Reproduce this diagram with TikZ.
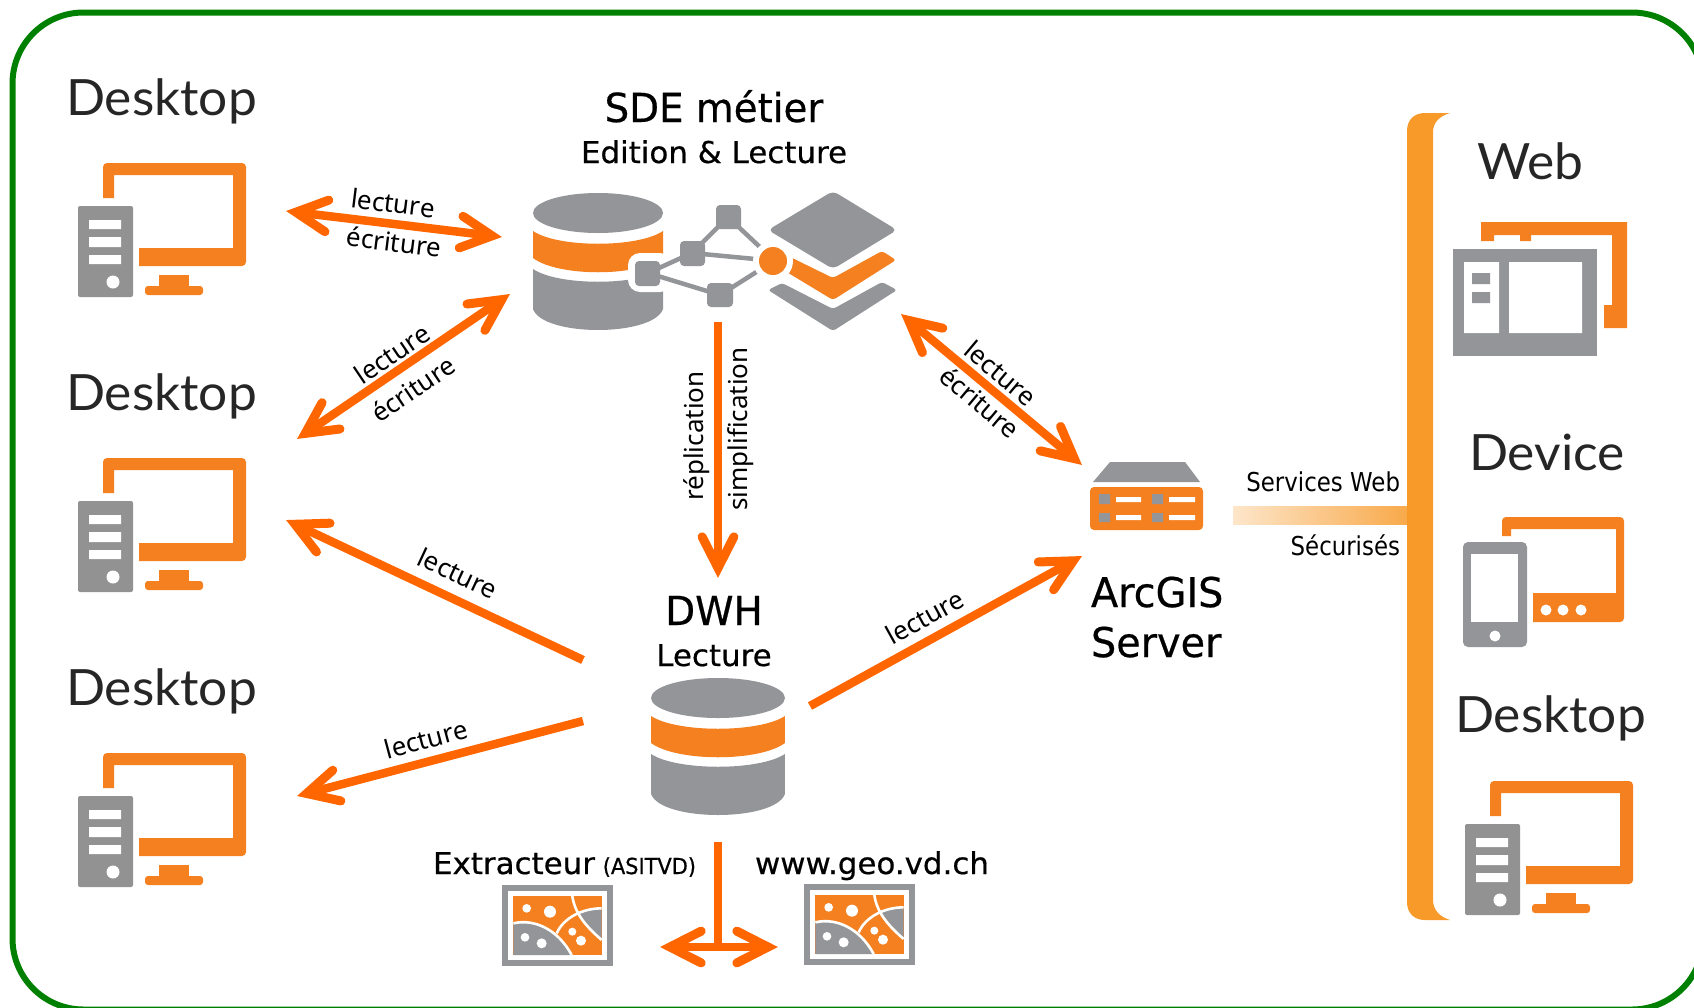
\documentclass[tikz,border=0pt]{standalone}
\usepackage{fontspec}
\usetikzlibrary{calc}
\setmainfont{DejaVu Sans}
\newfontfamily\tahT[FakeStretch=0.97,FakeBold=0.5]{DejaVu Sans}
\newfontfamily\tahS[FakeStretch=1.03,FakeBold=0.5]{DejaVu Sans}
\newfontfamily\tahL[FakeStretch=0.88]{DejaVu Sans}
\newfontfamily\tahN[FakeStretch=0.95,FakeBold=0.7]{DejaVu Sans}
\newfontfamily\nsans{Noto Sans}
\newfontfamily\lat[FakeStretch=1.03]{Lato}
\definecolor{ior}{HTML}{F58020}
\definecolor{igr}{HTML}{939598}
\definecolor{twr}{HTML}{929292}
\definecolor{arr}{HTML}{FF6600}
\definecolor{brk}{HTML}{F79A2A}
\definecolor{frameg}{HTML}{008000}
\newcommand{\fsz}[1]{\fontsize{#1}{#1}\selectfont}
\tikzset{
  txt/.style={inner sep=0pt,outer sep=0pt,text=black},
  ttl/.style={txt,anchor=base,font=\tahT\fsz{40}},
  sub/.style={txt,anchor=base,font=\tahS\fsz{30}},
  cat/.style={txt,anchor=base west,text=black!85,font=\lat\fsz{50}},
  lbl/.style={txt,anchor=center,font=\nsans\fsz{26}},
  svc/.style={txt,anchor=base east,font=\tahL\fsz{26}},
  shaft/.style={draw=arr,line width=8.5pt},
  barb/.style={draw=arr,line width=9pt,line cap=round,line join=miter},
}
% single head at #2, coming from #1
\newcommand{\headat}[2]{%
  \coordinate (ap) at ($(#2)!10pt!(#1)$);
  \draw[barb] ($(ap)!35pt!27:(#1)$) -- (ap) -- ($(ap)!35pt!-27:(#1)$);}
\newcommand{\onehead}[2]{\draw[shaft,shorten >=10pt] (#1) -- (#2); \headat{#1}{#2}}
\newcommand{\twohead}[2]{\draw[shaft,shorten >=10pt,shorten <=10pt] (#1) -- (#2); \headat{#1}{#2}\headat{#2}{#1}}
% desktop icon, coordinates of the top-left one
\newcommand{\desktopicon}{%
  \fill[ior] (103,198) [rounded corners=4] -- (103,163) -- (246,163) -- (246,266) [sharp corners] -- (139,266) -- (139,248) -- (233,248) -- (233,175) -- (114,175) -- (114,198) -- cycle;
  \fill[ior] (159,275) rectangle (189,287);
  \fill[ior,rounded corners=3] (145,286) rectangle (203,295);
  \fill[twr,rounded corners=2] (78,206) rectangle (133,297);
  \fill[white] (89,220) rectangle (121,229) (89,237) rectangle (121,247) (89,255) rectangle (121,264);
  \fill[white] (113,282) circle (6.5);}
% cylinder, local coordinates
\newcommand{\dbicon}{%
  \fill[igr] (0,20) ellipse [x radius=65,y radius=20];
  \fill[ior] (-65,38) .. controls (-40,55) and (40,55) .. (65,38) -- (65,65) .. controls (40,84) and (-40,84) .. (-65,65) -- cycle;
  \fill[igr] (-65,76) .. controls (-40,93) and (40,93) .. (65,76) -- (65,116) .. controls (55,144) and (-55,144) .. (-65,116) -- cycle;}
% map, zoom coordinates
\newcommand{\mapicon}{%
  \fill[igr] (20,15) rectangle (355,258);
  \fill[white] (38,32) rectangle (337,241);
  \fill[ior] (55,48) rectangle (320,225);
  \fill[igr] (55,130) .. controls (120,115) and (190,150) .. (230,225) -- (55,225) -- cycle;
  \fill[igr] (320,88) -- (320,180) .. controls (290,150) and (270,125) .. (248,95) .. controls (270,90) and (300,85) .. (320,88) -- cycle;
  \draw[white,line width=2.6pt] (55,130) .. controls (120,115) and (190,150) .. (230,225);
  \draw[white,line width=2.6pt] (185,160) .. controls (205,115) and (260,85) .. (320,85);
  \draw[white,line width=2.6pt] (232,48) .. controls (240,105) and (280,145) .. (320,180);
  \fill[white] (95,85) circle (13) (165,95) circle (18) (90,172) circle (13) (140,190) circle (15) (232,155) circle (12) (258,182) circle (15);}
\begin{document}
\begin{tikzpicture}[x=1pt,y=-1pt,line join=miter]
\useasboundingbox (0,0) rectangle (1694,1007);
\fill[white] (0,0) rectangle (1694,1007);
\begin{scope}
\clip (0,0) rectangle (1694,1007);
\draw[frameg,line width=6pt,rounded corners=71pt] (12.5,12.5) rectangle (1703,1009.5);
\end{scope}

% left desktops
\node[cat] (d1) at (66,115) {Desktop};
\node[cat] (d2) at (66,410) {Desktop};
\node[cat] (d3) at (66,705) {Desktop};
\desktopicon
\begin{scope}[shift={(0,295)}]\desktopicon\end{scope}
\begin{scope}[shift={(0,590)}]\desktopicon\end{scope}

% SDE
\node[ttl] (sde) at (714,122) {SDE métier};
\node[sub] (sdes) at (714,163) {Edition \& Lecture};
\begin{scope}[shift={(598,193)}]\dbicon\end{scope}
% layers
\fill[igr,rounded corners=5] (833,191) -- (897,230) -- (833,269) -- (768,230) -- cycle;
\fill[ior,rounded corners=3] (780,252) -- (833,278) -- (882,251) -- (896,260) -- (833,300) -- (780,268) -- cycle;
\fill[igr,rounded corners=3] (768,290) -- (782,283) -- (833,309) -- (882,282) -- (897,290) -- (833,331) -- cycle;
% network
\fill[white,rounded corners=12] (628,253) rectangle (672,292);
\draw[igr,line width=4.5pt] (648,273) -- (692,253) -- (728,217) -- (762,249);
\draw[igr,line width=4.5pt] (692,253) -- (755,259);
\draw[igr,line width=4.5pt] (648,273) -- (720,295) -- (758,271);
\fill[igr,rounded corners=4] (635,261) rectangle (660,286);
\fill[igr,rounded corners=4] (680,241) rectangle (705,266);
\fill[igr,rounded corners=4] (716,205) rectangle (741,229);
\fill[igr,rounded corners=4] (707,283) rectangle (733,307);
\fill[white] (773,261) circle (20);
\fill[ior] (773,261) circle (14);

% DWH
\node[ttl] (dwh) at (714,625) {DWH};
\node[sub] (dwhs) at (714,666) {Lecture};
\begin{scope}[shift={(718,678)},xscale=1.03]\dbicon\end{scope}

% ArcGIS server
\fill[igr] (1093,482) -- (1110,462) -- (1185,462) -- (1200,482) -- cycle;
\fill[ior,rounded corners=4] (1090,487) rectangle (1203,530);
\fill[igr] (1099,494) rectangle (1110,504) (1099,513) rectangle (1110,522) (1152,494) rectangle (1163,504) (1152,513) rectangle (1163,522);
\fill[white] (1116,497) rectangle (1141,502) (1116,515) rectangle (1141,520) (1169,497) rectangle (1195,502) (1169,515) rectangle (1195,520);
\node[txt,anchor=base west,font=\tahT\fsz{41}] (arc1) at (1091,607) {ArcGIS};
\node[txt,anchor=base west,font=\tahT\fsz{41}] (arc2) at (1091,657) {Server};

% services
\shade[left color=brk!25,right color=brk!85] (1233,506) rectangle (1408,524);
\node[svc] (sw) at (1400,491) {Services Web};
\node[svc] (ss) at (1400,555) {Sécurisés};

% bracket
\fill[brk] (1450,113) -- (1425,113) .. controls (1414,113) and (1407,120) .. (1407,131) -- (1407,902) .. controls (1407,913) and (1414,920) .. (1425,920) -- (1450,920) .. controls (1440,917) and (1433,910) .. (1433,900) -- (1433,132) .. controls (1433,122) and (1440,116) .. (1450,113) -- cycle;

% web
\node[cat] (web) at (1477,179) {Web};
\fill[ior] (1481,222) -- (1627,222) -- (1627,328) -- (1604,328) -- (1604,305) -- (1612,305) -- (1612,235) -- (1531,235) -- (1531,241) -- (1520,241) -- (1520,235) -- (1494,235) -- (1494,241) -- (1481,241) -- cycle;
\fill[igr] (1453,249) rectangle (1597,356);
\fill[white] (1464,262) rectangle (1499,333) (1509,262) rectangle (1582,333);
\fill[igr] (1472,273) rectangle (1490,284) (1472,292) rectangle (1490,303);

% device
\node[cat] (dev) at (1469,470) {Device};
\fill[ior] (1502,536) [rounded corners=4] -- (1502,517) -- (1624,517) -- (1624,622) [sharp corners] -- (1533,622) -- (1533,593) -- (1616,593) -- (1616,529) -- (1511,529) -- (1511,536) -- cycle;
\fill[white] (1546,610) circle (5.5) (1563,610) circle (5.5) (1581,610) circle (5.5);
\fill[igr,rounded corners=5] (1463,542) rectangle (1527,647);
\fill[white] (1471,554) rectangle (1518,622);
\fill[white] (1495,636) circle (5.5);

% right desktop
\node[cat] (d4) at (1455,732) {Desktop};
\begin{scope}[shift={(1387,618)}]\desktopicon\end{scope}

% maps
\node[txt,anchor=base west,font=\tahS\fsz{30}] (ex) at (433,874) {Extracteur};
\node[txt,anchor=base east,font=\tahN\fsz{22}] (as) at (696,874) {(ASITVD)};
\node[txt,anchor=base west,font=\tahS\fsz{30}] (ww) at (755,874) {www.geo.vd.ch};
\begin{scope}[shift={(495,880)},x=0.3333pt,y=-0.3333pt]\mapicon\end{scope}
\begin{scope}[shift={(797,879)},x=0.3333pt,y=-0.3333pt]\mapicon\end{scope}

% connector ends
\coordinate (a1s) at (286,211);  \coordinate (a1e) at (502,237);
\coordinate (a2s) at (297,439);  \coordinate (a2e) at (510,294);
\coordinate (a3s) at (901,314);  \coordinate (a3e) at (1082,465);
\coordinate (a4s) at (718,322);  \coordinate (a4e) at (718,578);
\coordinate (a5s) at (583,660);  \coordinate (a5e) at (286,520);
\coordinate (a6s) at (583,721);  \coordinate (a6e) at (297,796);
\coordinate (a7s) at (810,706);  \coordinate (a7e) at (1082,556);
\coordinate (a8s) at (718,842);  \coordinate (a8e) at (718,947);
\coordinate (a9s) at (660,947);  \coordinate (a9e) at (778,947);

\twohead{a1s}{a1e}
\twohead{a2s}{a2e}
\twohead{a3s}{a3e}
\onehead{a4s}{a4e}
\onehead{a5s}{a5e}
\onehead{a6s}{a6e}
\onehead{a7s}{a7e}
\draw[shaft] (a8s) -- (a8e);
\twohead{a9s}{a9e}

% connector labels
\node[lbl,rotate=-7] (l1) at (393,203) {lecture};
\node[lbl,rotate=-7] (l2) at (394,242) {écriture};
\node[lbl,rotate=34] (l3) at (392,354) {lecture};
\node[lbl,rotate=34] (l4) at (413,389) {écriture};
\node[lbl,rotate=-40] (l5) at (1001,373) {lecture};
\node[lbl,rotate=-40] (l6) at (980,402) {écriture};
\node[lbl,rotate=90] (l7) at (697,436) {réplication};
\node[lbl,rotate=90] (l8) at (741,429) {simplification};
\node[lbl,rotate=-25] (l9) at (458,573) {lecture};
\node[lbl,rotate=15] (l10) at (426,739) {lecture};
\node[lbl,rotate=29] (l11) at (925,617) {lecture};
\end{tikzpicture}
\end{document}
